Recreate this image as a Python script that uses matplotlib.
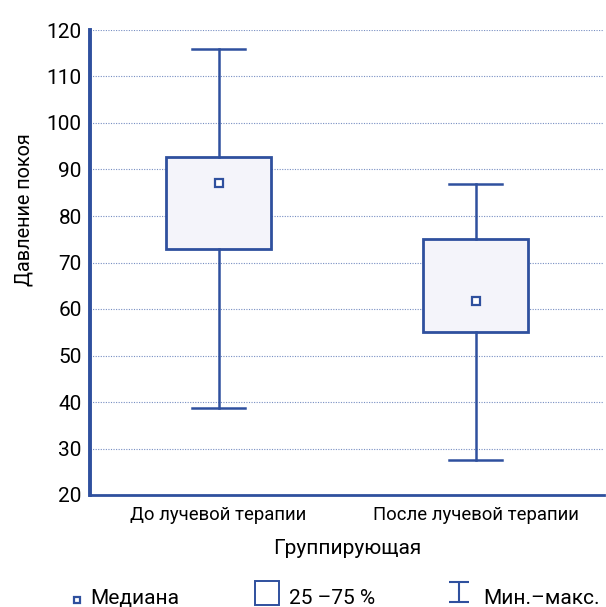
import matplotlib.pyplot as plt
from matplotlib.lines import Line2D
from matplotlib.path import Path
import numpy as np

plt.rcParams['font.family'] = ['Roboto', 'DejaVu Sans']

# data
groups = ["До лучевой терапии", "После лучевой терапии"]
mins = [38.7, 27.5]
q1 = [72.9, 55.1]
medians = [87.1, 61.7]
q3 = [92.7, 75.1]
maxs = [115.9, 86.9]
legend_labels = ["Медиана", "25 –75 %", "Мин.–макс."]

blue = "#2F509E"
fill = "#F4F4FA"
W, H = 606, 607

fig = plt.figure(figsize=(6.06, 6.07), dpi=100)
ax = fig.add_axes([90 / W, 1 - 495 / H, 514 / W, 465 / H])

stats = []
for i in range(len(groups)):
    stats.append({"whislo": mins[i], "q1": q1[i], "med": medians[i],
                  "q3": q3[i], "whishi": maxs[i], "fliers": []})

x = np.arange(len(groups))
ax.bxp(stats, positions=x, widths=0.41, capwidths=0.21, showfliers=False,
       patch_artist=True,
       boxprops=dict(facecolor=fill, edgecolor=blue, linewidth=2),
       whiskerprops=dict(color=blue, linewidth=1.8),
       capprops=dict(color=blue, linewidth=1.8),
       medianprops=dict(linewidth=0))
ax.plot(x, medians, ls="none", marker="s", ms=5.5, mfc="white", mec=blue, mew=1.6, zorder=5)

ax.set_xlim(-0.5, 1.5)
ax.set_ylim(20, 120)
ax.set_yticks(np.arange(20, 121, 10))
ax.set_xticks(x)
ax.set_xticklabels(groups, fontsize=13.3)
ax.tick_params(axis="y", length=0, labelsize=15, pad=6)
ax.tick_params(axis="x", length=0, pad=8)
ax.yaxis.grid(True, ls=(0, (1, 1.3)), color="#4A68AE", lw=0.8, alpha=0.75)
ax.set_axisbelow(True)

for s in ["top", "right"]:
    ax.spines[s].set_visible(False)
ax.spines["left"].set_color(blue)
ax.spines["left"].set_linewidth(2.8)
ax.spines["bottom"].set_color(blue)
ax.spines["bottom"].set_linewidth(2)

ax.set_ylabel("Давление покоя", fontsize=14.3)
ax.yaxis.set_label_coords(-0.11, 0.613)
ax.set_xlabel("Группирующая", fontsize=15)
ax.xaxis.set_label_coords(0.5, -0.094)

# legend drawn by hand at the bottom
ly = 1 - 604 / H
ipath = Path([(-1, 1), (1, 1), (0, 1), (0, -1), (-1, -1), (1, -1)],
             [Path.MOVETO, Path.LINETO, Path.MOVETO, Path.LINETO, Path.MOVETO, Path.LINETO])
fig.add_artist(Line2D([76.5 / W], [1 - 600 / H], transform=fig.transFigure, ls="none",
                      marker="s", ms=5, mfc="white", mec=blue, mew=1.6))
fig.add_artist(Line2D([266.5 / W], [1 - 593 / H], transform=fig.transFigure, ls="none",
                      marker="s", ms=17, mfc="white", mec=blue, mew=1.4))
fig.add_artist(Line2D([459 / W], [1 - 592 / H], transform=fig.transFigure, ls="none",
                      marker=ipath, ms=15, mfc="none", mec=blue, mew=1.5))
for xt, lab in zip([90, 289, 483], legend_labels):
    fig.text(xt / W, ly, lab, fontsize=15, va="baseline", ha="left")

fig.savefig("out.png", dpi=100)
